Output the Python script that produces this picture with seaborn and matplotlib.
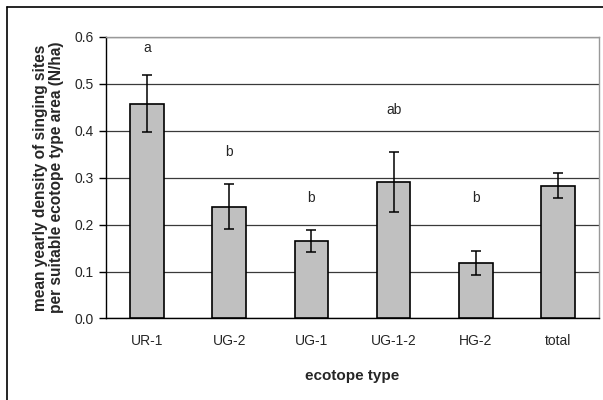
import matplotlib
matplotlib.use("Agg")
import matplotlib.pyplot as plt
import seaborn as sns
import pandas as pd
import numpy as np
from matplotlib.ticker import MultipleLocator, FixedLocator, FormatStrFormatter

categories = ["UR-1", "UG-2", "UG-1", "UG-1-2", "HG-2", "total"]
means = [0.458, 0.238, 0.165, 0.290, 0.118, 0.283]
errors = [0.060, 0.048, 0.024, 0.064, 0.026, 0.026]
letters = ["a", "b", "b", "ab", "b", ""]
letter_y = [0.577, 0.355, 0.256, 0.444, 0.256, 0.0]

sns.set_style("white")
plt.rcParams["font.family"] = ["Liberation Sans", "DejaVu Sans"]

df = pd.DataFrame({"ecotope": categories, "density": means})

fig = plt.figure(figsize=(6.03, 4.0), dpi=100)
ax = fig.add_axes([0.1758, 0.204, 0.8176, 0.7035])

sns.barplot(data=df, x="ecotope", y="density", order=categories, color="#C0C0C0",
            width=0.41, edgecolor="black", linewidth=1.2, errorbar=None, ax=ax,
            saturation=1, zorder=3)
ax.errorbar(np.arange(len(categories)), means, yerr=errors, fmt="none",
            ecolor="black", elinewidth=1.1, capsize=3.6, capthick=1.1, zorder=4)

for i, (t, yy) in enumerate(zip(letters, letter_y)):
    if t:
        ax.text(i, yy, t, ha="center", va="center", fontsize=10)

ax.set_ylim(0, 0.6)
ax.set_xlim(-0.5, len(categories) - 0.5)
ax.yaxis.set_major_locator(MultipleLocator(0.1))
ax.yaxis.set_major_formatter(FormatStrFormatter("%.1f"))
ax.yaxis.grid(True, color="#3a3a3a", linewidth=0.9, zorder=0)
ax.set_axisbelow(True)

ax.xaxis.set_minor_locator(FixedLocator(np.arange(-0.5, len(categories), 1.0)))
ax.tick_params(axis="x", which="major", length=0, pad=11, labelsize=10)
ax.tick_params(axis="x", which="minor", length=5, width=1, color="black", direction="out")
ax.tick_params(axis="y", which="major", length=5, width=1, color="black", direction="out",
               labelsize=10, pad=4, left=True)

for s in ["left", "bottom"]:
    ax.spines[s].set_color("black")
    ax.spines[s].set_linewidth(1)
for s in ["top", "right"]:
    ax.spines[s].set_color("#999999")
    ax.spines[s].set_linewidth(1)
    ax.spines[s].set_visible(True)

ax.set_xlabel("ecotope type", fontsize=11, fontweight="bold", labelpad=15)
ax.set_ylabel("mean yearly density of singing sites\nper suitable ecotope type area (N/ha)",
              fontsize=11.2, fontweight="bold", labelpad=7, linespacing=1.12)

# outer chart frame (only left and top visible)
fig.add_artist(plt.Line2D([0.0116, 0.0116], [0, 0.9825], transform=fig.transFigure,
                          color="black", linewidth=1.2))
fig.add_artist(plt.Line2D([0.0116, 1.0], [0.9825, 0.9825], transform=fig.transFigure,
                          color="black", linewidth=1.2))

fig.savefig("out.png", dpi=100)
